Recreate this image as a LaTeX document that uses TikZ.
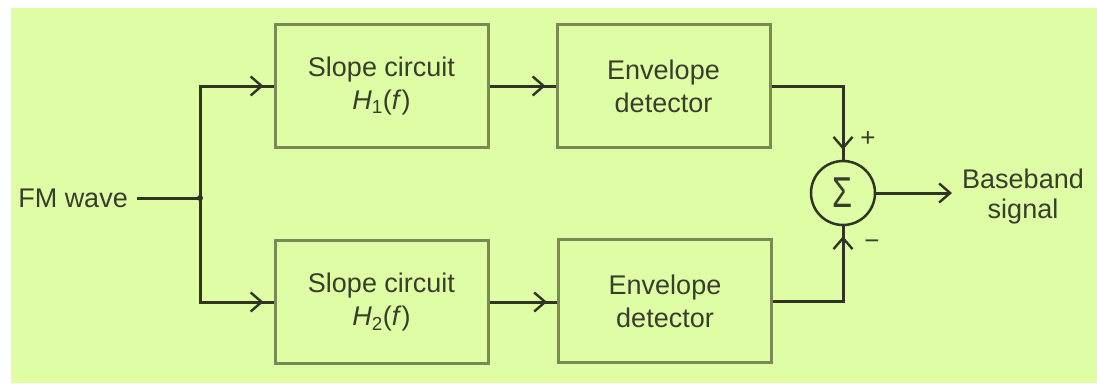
\documentclass[tikz,border=0pt]{standalone}
\usepackage{fontspec}
\setmainfont{Liberation Sans}
\usetikzlibrary{arrows.meta,decorations.markings}
\definecolor{bg}{HTML}{DFFDA5}
\definecolor{boxc}{HTML}{7A8A55}
\definecolor{linec}{HTML}{2F3522}
\definecolor{txtc}{HTML}{383E2C}
\tikzset{
  blockbox/.style={draw=boxc, line width=3pt, minimum width=213pt, minimum height=123pt,
    inner sep=0pt, align=center, text=txtc, font=\fontsize{27}{33}\selectfont},
  conn/.style={draw=linec, line width=3pt},
  arr/.style={conn, postaction={decorate}, decoration={markings,
    mark=at position -10pt with {\arrow{Straight Barb[length=11pt,width=19pt,line width=2.4pt]}}}},
  lbl/.style={text=txtc, font=\fontsize{27}{30}\selectfont, align=center}
}
\begin{document}
\begin{tikzpicture}[x=1pt,y=-1pt]
\useasboundingbox (0,0) rectangle (1097,383);
\fill[white] (0,0) rectangle (1097,383);
\fill[bg] (11,8) rectangle (1097,383);

\node[blockbox] (s1) at (381.5,86) {Slope circuit\\\textit{H}\textsubscript{1}(\textit{f})};
\node[blockbox] (e1) at (663.5,86) {Envelope\\detector};
\node[blockbox] (s2) at (381.5,302) {Slope circuit\\\textit{H}\textsubscript{2}(\textit{f})};
\node[blockbox] (e2) at (665,301) {Envelope\\detector};
\node[draw=linec, line width=2.5pt, circle, minimum size=64pt, inner sep=0pt, text=txtc] (sum) at (843,193)
  {\fontsize{36}{36}\selectfont\scalebox{0.9}[1.2]{Σ}};

\node[lbl, anchor=east, inner sep=0pt] (fm) at (128,198) {FM wave};
\coordinate (j) at (200,198);
\node[lbl, anchor=west, inner sep=0pt] (bb) at (962,197) {Baseband\\signal};
\node[text=txtc, font=\fontsize{26}{26}\selectfont, inner sep=0pt] (plus) at (868,139) {+};
\node[text=txtc, font=\fontsize{26}{26}\selectfont, inner sep=0pt] (minus) at (872,245) {−};

\draw[conn, shorten <=9pt] (fm.east) -- (j);
\fill[linec] (j) circle (3pt);
\draw[arr] (j) |- (s1.west);
\draw[arr] (j) |- (s2.west);
\draw[arr] (s1.east) -- (e1.west);
\draw[arr] (s2.east) -- (s2.east -| e2.west);
\draw[arr] (e1.east) -| (sum.north);
\draw[arr] (e2.east) -| (sum.south);
\draw[arr, shorten >=12pt] (sum.east) -- (sum.east -| bb.west);
\end{tikzpicture}
\end{document}
